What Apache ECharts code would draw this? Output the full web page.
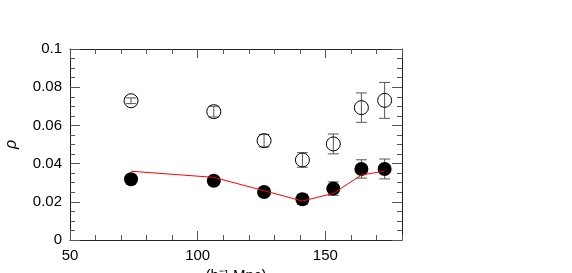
<!DOCTYPE html>
<html>
<head>
<meta charset="utf-8">
<script src="https://cdn.jsdelivr.net/npm/echarts@6/dist/echarts.min.js"></script>
<style>html,body{margin:0;padding:0;background:#fff;}#c{width:572px;height:273px;}</style>
</head>
<body>
<div id="c"></div>
<script>
const xVals = [73.9, 106.3, 126.0, 141.0, 153.1, 164.1, 173.2];
const openVals = [0.0729, 0.0672, 0.0520, 0.0419, 0.0503, 0.0693, 0.0731];
const openErr = [0.0015, 0.0028, 0.0033, 0.0038, 0.0052, 0.0077, 0.0094];
const filledVals = [0.0318, 0.0310, 0.0251, 0.0213, 0.0269, 0.0372, 0.0372];
const filledErr = [0.0015, 0.0020, 0.0020, 0.0026, 0.0035, 0.0048, 0.0052];
const modelVals = [0.0360, 0.0328, 0.0258, 0.0204, 0.0244, 0.0340, 0.0361];
const xTicksMajor = 50, xTicksMinor = 10;
const yTicks = 0.02;
const xName = '(h\u207B\u00B9 Mpc)';
const yName = '\u03C1';

const FONT = 'Liberation Sans';
const chart = echarts.init(document.getElementById('c'));

function errData(vals, errs) {
  return xVals.map((x, i) => [x, vals[i] - errs[i], vals[i] + errs[i]]);
}
function errRender(params, api) {
  const x = api.value(0);
  const p1 = api.coord([x, api.value(1)]);
  const p2 = api.coord([x, api.value(2)]);
  const w = 5.5;
  const st = { stroke: '#555', lineWidth: 1 };
  return {
    type: 'group',
    children: [
      { type: 'line', shape: { x1: p1[0], y1: p1[1], x2: p2[0], y2: p2[1] }, style: st },
      { type: 'line', shape: { x1: p1[0] - w, y1: p1[1], x2: p1[0] + w, y2: p1[1] }, style: st },
      { type: 'line', shape: { x1: p2[0] - w, y1: p2[1], x2: p2[0] + w, y2: p2[1] }, style: st }
    ]
  };
}

const axisLineStyle = { color: '#222', width: 1 };
const tickStyle = { color: '#555', width: 1 };

function xAx(pos, interval, len, labels, line) {
  return {
    type: 'value', position: pos, min: 50, max: 180, interval: interval,
    axisLine: { show: line, lineStyle: axisLineStyle },
    axisTick: { show: true, inside: true, length: len, lineStyle: tickStyle },
    axisLabel: { show: labels, margin: 8, fontFamily: FONT, fontSize: 15, color: '#000', showMaxLabel: false },
    splitLine: { show: false },
    name: labels ? xName : '', nameLocation: 'middle', nameGap: 25,
    nameTextStyle: { fontFamily: FONT, fontSize: 15, color: '#000' }
  };
}
function yAx(pos, labels) {
  return {
    type: 'value', position: pos, min: 0, max: 0.1, interval: yTicks,
    axisLine: { show: true, lineStyle: axisLineStyle },
    axisTick: { show: true, inside: true, length: 10, lineStyle: tickStyle },
    minorTick: { show: true, splitNumber: 4, length: 5, lineStyle: tickStyle },
    axisLabel: { show: labels, margin: 8, fontFamily: FONT, fontSize: 15, color: '#000',
      formatter: v => String(+v.toFixed(3)) },
    splitLine: { show: false }, minorSplitLine: { show: false },
    name: labels ? yName : '', nameLocation: 'middle', nameGap: 50, nameRotate: 90,
    nameTextStyle: { fontFamily: FONT, fontSize: 16, color: '#000', fontStyle: 'italic' }
  };
}

chart.setOption({
  animation: false,
  grid: { left: 70, right: 170, top: 49, bottom: 33, containLabel: false, outerBoundsMode: 'none' },
  xAxis: [
    xAx('bottom', xTicksMajor, 9, true, true),
    xAx('bottom', xTicksMinor, 5, false, false),
    xAx('top', xTicksMajor, 9, false, true),
    xAx('top', xTicksMinor, 5, false, false)
  ],
  yAxis: [yAx('left', true), yAx('right', false)],
  series: [
    { type: 'custom', renderItem: errRender, data: errData(openVals, openErr), z: 2, silent: true },
    { type: 'custom', renderItem: errRender, data: errData(filledVals, filledErr), z: 2, silent: true },
    { type: 'scatter', data: xVals.map((x, i) => [x, openVals[i]]), symbol: 'circle', symbolSize: 14,
      itemStyle: { color: 'rgba(0,0,0,0)', borderColor: '#000', borderWidth: 1, opacity: 1 }, z: 3 },
    { type: 'scatter', data: xVals.map((x, i) => [x, filledVals[i]]), symbol: 'circle', symbolSize: 14,
      itemStyle: { color: '#000', borderColor: '#000', borderWidth: 0, opacity: 1 }, z: 3 },
    { type: 'line', data: xVals.map((x, i) => [x, modelVals[i]]), showSymbol: false, symbol: 'none',
      lineStyle: { color: '#ff0000', width: 1 }, z: 4 }
  ]
});
</script>
</body>
</html>
